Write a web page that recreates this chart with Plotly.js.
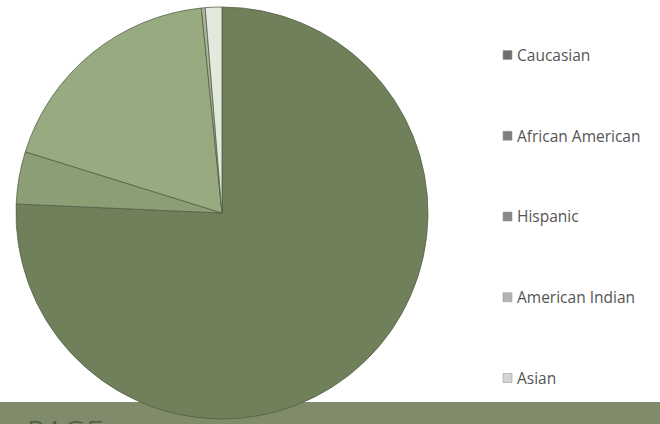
<!DOCTYPE html>
<html>
<head>
<meta charset="utf-8">
<script src="https://cdn.plot.ly/plotly-3.0.1.min.js"></script>
<style>html,body{margin:0;padding:0;background:#fff;}#chart{width:660px;height:424px;}</style>
</head>
<body>
<div id="chart"></div>
<script>
const categories = ["Caucasian", "African American", "Hispanic", "American Indian", "Asian"];
const shares = [75.7, 4.1, 18.6, 0.3, 1.3];
const sliceColors = ["#6f805b", "#8c9e76", "#97aa80", "#a9b39e", "#e3eadc"];
const legendColors = ["#6f6f6f", "#7e7e7e", "#878787", "#b4b4b4", "#d4d4d4"];
const footerLabel = "PAGE";

const W = 660, H = 424;
const px = v => v / W;
const py = v => 1 - v / H;

const trace = {
  type: "pie",
  labels: categories,
  values: shares,
  sort: false,
  direction: "clockwise",
  rotation: 0,
  textinfo: "none",
  hoverinfo: "label+percent",
  showlegend: false,
  marker: { colors: sliceColors, line: { color: "rgba(80,92,68,0.75)", width: 1 } },
  domain: { x: [px(16), px(428)], y: [py(419), py(7)] }
};

const shapes = [
  { type: "rect", xref: "paper", yref: "paper", x0: 0, x1: 1, y0: 0, y1: py(402),
    fillcolor: "#7f8b6b", line: { width: 0 }, layer: "below" }
];
const annotations = [];
const legendY0 = 55, legendStep = 80.75;
categories.forEach((c, i) => {
  const yc = legendY0 + i * legendStep;
  shapes.push({ type: "rect", xref: "paper", yref: "paper",
    x0: px(503), x1: px(512), y0: py(yc + 4.5), y1: py(yc - 4.5),
    fillcolor: legendColors[i], line: { color: "#9a9a9a", width: 0.6 }, layer: "above" });
  annotations.push({ xref: "paper", yref: "paper", x: px(515), y: py(yc),
    xanchor: "left", yanchor: "middle", showarrow: false, text: c,
    font: { family: "Open Sans, sans-serif", size: 15.5, color: "#555555" } });
});
annotations.push({ xref: "paper", yref: "paper", x: px(22), y: py(408),
  xanchor: "left", yanchor: "top", showarrow: false, text: footerLabel,
  font: { family: "Open Sans, sans-serif", size: 33, color: "#4f5946", style: "italic", weight: 300 } });

const layout = {
  width: W, height: H,
  margin: { l: 0, r: 0, t: 0, b: 0 },
  paper_bgcolor: "#ffffff",
  showlegend: false,
  shapes: shapes,
  annotations: annotations
};
Plotly.newPlot("chart", [trace], layout, { displayModeBar: false, staticPlot: true });
</script>
</body>
</html>
